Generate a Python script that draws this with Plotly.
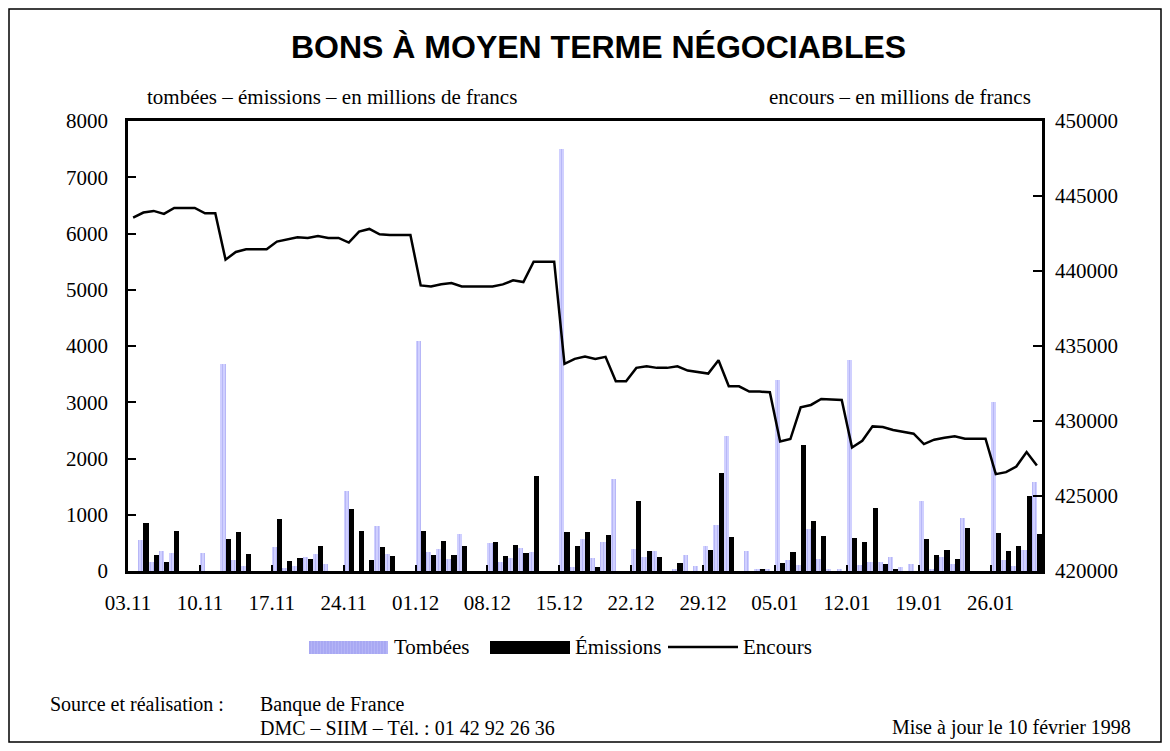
import plotly.graph_objects as go

# ---------------- data (day index 0 = 03.11.1997, calendar days to 30.01.1998) ----------------
tick_labels = ["03.11", "10.11", "17.11", "24.11", "01.12", "08.12", "15.12",
               "22.12", "29.12", "05.01", "12.01", "19.01", "26.01"]

tombees = [0, 550, 160, 356, 320, 0, 0,
           320, 0, 3680, 196, 89, 0, 0,
           428, 53, 89, 250, 303, 125, 0,
           1426, 0, 0, 802, 303, 0, 0,
           4090, 339, 392, 214, 659, 0, 0,
           499, 160, 232, 410, 339, 0, 0,
           7500, 71, 570, 232, 517, 1630, 0,
           392, 250, 356, 0, 18, 285, 89,
           445, 820, 2400, 0, 356, 18, 36,
           3400, 196, 107, 748, 214, 36, 18,
           3760, 107, 160, 160, 250, 71, 125,
           1247, 18, 250, 125, 944, 0, 0,
           3010, 196, 89, 374, 1585]

emissions = [0, 855, 285, 160, 713, 0, 0,
             0, 0, 570, 695, 303, 0, 0,
             927, 178, 232, 214, 445, 0, 0,
             1105, 713, 196, 428, 267, 0, 0,
             713, 285, 535, 285, 445, 0, 0,
             517, 267, 463, 321, 1690, 0, 0,
             695, 445, 695, 71, 641, 0, 0,
             1247, 356, 250, 0, 143, 0, 0,
             374, 1745, 606, 0, 0, 18, 0,
             143, 339, 2240, 891, 624, 0, 0,
             588, 517, 1123, 125, 18, 0, 0,
             570, 285, 374, 214, 766, 0, 0,
             677, 356, 445, 1336, 659]

encours = [443564, 443898, 444006, 443805, 444206, 444206, 444206,
           443851, 443851, 440757, 441266, 441446, 441446, 441446,
           441961, 442114, 442248, 442202, 442335, 442202, 442202,
           441893, 442628, 442803, 442448, 442402, 442402, 442402,
           439041, 438970, 439115, 439200, 438970, 438970, 438970,
           438970, 439108, 439375, 439263, 440624, 440624, 440624,
           433809, 434143, 434297, 434143, 434275, 432647, 432647,
           433542, 433650, 433542, 433542, 433650, 433362, 433249,
           433161, 434050, 432313, 432313, 431959, 431959, 431914,
           428639, 428796, 430913, 431070, 431471, 431425, 431402,
           428238, 428685, 429641, 429600, 429400, 429287, 429153,
           428465, 428752, 428886, 428975, 428819, 428819, 428819,
           426458, 426592, 426968, 427930, 427035]

days = list(range(len(encours)))

# ---------------- geometry helpers (screen pixels; page body has an 8px margin) ----------------
OFF = 8
W, H = 1154, 735
L, R, T, B = 128, 1042, 121, 571   # plot area on screen


def px(x):
    return (x - L) / (R - L)


def py(y):
    return (B - y) / (B - T)


SERIF = "Liberation Serif"
SANS = "Liberation Sans"
LAV = "#b4b4f6"
FS = 21

fig = go.Figure()
fig.add_bar(x=days, y=tombees, name="Tombées", showlegend=False,
            marker=dict(color=LAV, line=dict(width=0),
                        pattern=dict(shape="|", fgcolor="#9d9df0", bgcolor="#d0d0ff",
                                     size=3, solidity=0.35)))
fig.add_bar(x=days, y=emissions, name="Émissions", showlegend=False,
            marker=dict(color="black", line=dict(width=0)))
fig.add_scatter(x=days, y=encours, yaxis="y2", mode="lines", name="Encours",
                showlegend=False, line=dict(color="black", width=2.5))

tickfont = dict(family=SERIF, size=FS, color="black")

fig.update_layout(
    width=W, height=H,
    margin=dict(l=L - OFF, r=W - (R - OFF), t=T - OFF, b=H - (B - OFF), pad=0),
    paper_bgcolor="white", plot_bgcolor="white",
    barmode="group", bargap=0, bargroupgap=0,
    xaxis=dict(range=[-0.5, len(days) - 0.5], tickmode="array",
               tickvals=[-0.5 + 7 * k for k in range(len(tick_labels))],
               ticktext=tick_labels, ticks="inside", ticklen=6, tickwidth=2,
               tickcolor="black", showline=True, linewidth=2.5, linecolor="black",
               mirror=True, showgrid=False, zeroline=False, tickfont=tickfont,
               ticklabelstandoff=11),
    yaxis=dict(range=[0, 8000], dtick=1000, ticks="inside", ticklen=8, tickwidth=2,
               tickcolor="black", showline=True, linewidth=2.5, linecolor="black",
               showgrid=False, zeroline=False, tickfont=tickfont, tickformat="d",
               ticklabelstandoff=13),
    yaxis2=dict(range=[420000, 450000], dtick=5000, overlaying="y", side="right",
                ticks="inside", ticklen=9, tickwidth=2, tickcolor="black",
                showline=True, linewidth=2.5, linecolor="black", showgrid=False,
                zeroline=False, tickfont=tickfont, tickformat="d",
                ticklabelstandoff=6),
)

shapes = []
# outer frame
shapes.append(dict(type="rect", xref="paper", yref="paper",
                   x0=px(9), x1=px(1161), y0=py(742), y1=py(9),
                   line=dict(color="black", width=1.5)))
# legend swatches
shapes.append(dict(type="rect", xref="paper", yref="paper",
                   x0=px(309), x1=px(388), y0=py(654), y1=py(641),
                   fillcolor=LAV, line=dict(width=0)))
for xs in range(310, 388, 3):
    shapes.append(dict(type="line", xref="paper", yref="paper",
                       x0=px(xs), x1=px(xs), y0=py(654), y1=py(641),
                       line=dict(color="#9d9df0", width=1)))
shapes.append(dict(type="rect", xref="paper", yref="paper",
                   x0=px(490), x1=px(570), y0=py(654), y1=py(641),
                   fillcolor="black", line=dict(width=0)))
shapes.append(dict(type="line", xref="paper", yref="paper",
                   x0=px(668), x1=px(738), y0=py(647), y1=py(647),
                   line=dict(color="black", width=2.5)))
fig.update_layout(shapes=shapes)


def text(x, y, s, anchor="left", size=FS, family=SERIF):
    fig.add_annotation(x=px(x), y=py(y), xref="paper", yref="paper", text=s,
                       showarrow=False, xanchor=anchor, yanchor="middle",
                       font=dict(family=family, size=size, color="black"))


text(598, 47, "<b>BONS À MOYEN TERME NÉGOCIABLES</b>", anchor="center", size=32, family=SANS)
text(145, 97, "tombées – émissions – en millions de francs")
text(1033, 97, "encours – en millions de francs", anchor="right")
text(392, 647, "Tombées")
text(573, 647, "Émissions")
text(741, 647, "Encours")
text(48, 704, "Source et réalisation :", size=20)
text(258, 704, "Banque de France", size=20)
text(258, 727.5, "DMC – SIIM – Tél. : 01 42 92 26 36", size=20)
text(1133, 727.5, "Mise à jour le 10 février 1998", anchor="right", size=20)

fig.write_html("out.html")
